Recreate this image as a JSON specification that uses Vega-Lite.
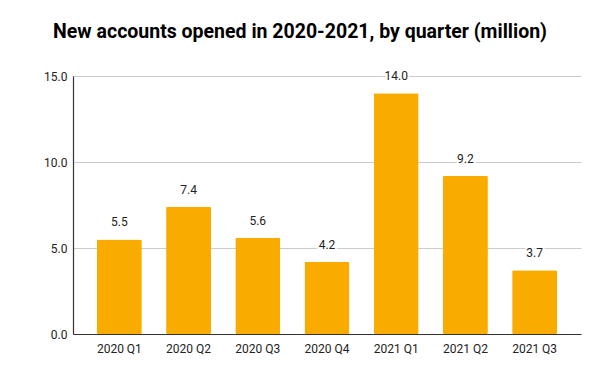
{
  "$schema": "https://vega.github.io/schema/vega-lite/v6.json",
  "width": 508,
  "height": 258,
  "autosize": "none",
  "padding": {"left": 73, "top": 76, "right": 19, "bottom": 35},
  "background": "white",
  "title": {
    "text": "New accounts opened in 2020-2021, by quarter (million)",
    "font": "Roboto",
    "fontSize": 19.5,
    "fontWeight": "bold",
    "color": "#000000",
    "anchor": "middle",
    "dx": -27,
    "offset": 28
  },
  "data": {
    "values": [
      {"quarter": "2020 Q1", "value": 5.5},
      {"quarter": "2020 Q2", "value": 7.4},
      {"quarter": "2020 Q3", "value": 5.6},
      {"quarter": "2020 Q4", "value": 4.2},
      {"quarter": "2021 Q1", "value": 14.0},
      {"quarter": "2021 Q2", "value": 9.2},
      {"quarter": "2021 Q3", "value": 3.7}
    ]
  },
  "encoding": {
    "x": {
      "field": "quarter",
      "type": "nominal",
      "sort": null,
      "title": null,
      "scale": {"paddingInner": 0.35, "paddingOuter": 0.345},
      "axis": {
        "labelAngle": 0,
        "labelFont": "Roboto",
        "labelFontSize": 12,
        "labelColor": "#222222",
        "ticks": false,
        "labelPadding": 9,
        "domainColor": "#333333",
        "domainWidth": 1.2
      }
    },
    "y": {
      "field": "value",
      "type": "quantitative",
      "title": null,
      "scale": {"domain": [0, 15], "nice": false},
      "axis": {
        "values": [0, 5, 10, 15],
        "format": ".1f",
        "labelFont": "Roboto",
        "labelFontSize": 12,
        "labelColor": "#222222",
        "ticks": false,
        "labelPadding": 6,
        "domainColor": "#333333",
        "domainWidth": 1.2,
        "gridColor": "#cccccc",
        "gridWidth": 1
      }
    }
  },
  "layer": [
    {
      "mark": {"type": "bar", "color": "#FAAB00", "cornerRadius": 1.5}
    },
    {
      "mark": {"type": "text", "font": "Roboto", "fontSize": 12, "dy": -13, "baseline": "alphabetic", "fill": "white", "stroke": "white", "strokeWidth": 4},
      "encoding": {"text": {"field": "value", "type": "quantitative", "format": ".1f"}}
    },
    {
      "mark": {"type": "text", "font": "Roboto", "fontSize": 12, "dy": -13, "baseline": "alphabetic", "color": "#222222"},
      "encoding": {"text": {"field": "value", "type": "quantitative", "format": ".1f"}}
    }
  ],
  "config": {"view": {"stroke": null}}
}
